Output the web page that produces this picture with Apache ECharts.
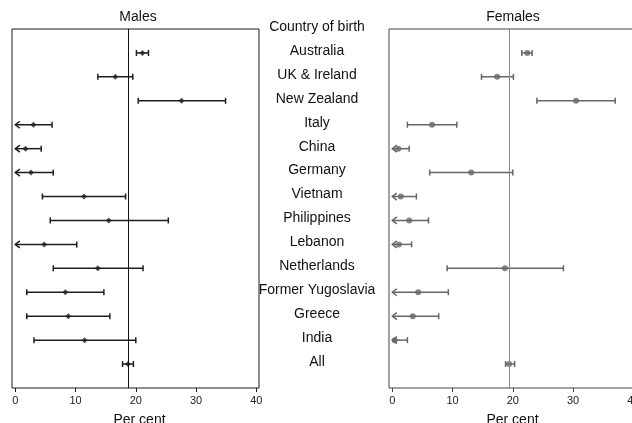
<!DOCTYPE html>
<html>
<head>
<meta charset="utf-8">
<script src="https://cdn.jsdelivr.net/npm/echarts@6/dist/echarts.min.js"></script>
<style>html,body{margin:0;padding:0;background:#fff}#c{width:632px;height:423px}</style>
</head>
<body>
<div id="c"></div>
<script>
const countries = ['Australia','UK & Ireland','New Zealand','Italy','China','Germany','Vietnam','Philippines','Lebanon','Netherlands','Former Yugoslavia','Greece','India','All'];
const header = 'Country of birth';
// null lower bound = interval truncated below zero (drawn as arrow)
const maleEst = [21.1, 16.6, 27.6, 3.0, 1.7, 2.6, 11.4, 15.5, 4.8, 13.7, 8.3, 8.8, 11.5, 18.7];
const maleLo  = [20.1, 13.7, 20.4, null, null, null, 4.5, 5.8, null, 6.3, 1.9, 1.9, 3.1, 17.8];
const maleHi  = [22.1, 19.5, 34.9, 6.1, 4.3, 6.3, 18.3, 25.4, 10.2, 21.2, 14.7, 15.7, 20.0, 19.6];
const femaleEst = [22.4, 17.4, 30.5, 6.6, 1.0, 13.1, 1.4, 2.8, 1.1, 18.7, 4.3, 3.4, 0.4, 19.4];
const femaleLo  = [21.5, 14.8, 24.0, 2.5, null, 6.2, null, null, null, 9.1, null, null, null, 18.8];
const femaleHi  = [23.2, 20.1, 37.0, 10.7, 2.8, 20.0, 4.0, 6.0, 3.2, 28.4, 9.3, 7.7, 2.5, 20.3];
const xTicks = [0, 10, 20, 30, 40];

const FONT = 'Liberation Sans, Arial, sans-serif';
const MALE = '#1e1e1e', FEMALE = '#666666';

function ciData(lo, hi) {
  return lo.map((l, i) => [l === null ? 0 : l, hi[i], i, l === null ? 1 : 0]);
}
function pts(est) { return est.map((v, i) => [v, i]); }

function makeRender(color, lw) {
  return function (params, api) {
    const y = api.value(2);
    const p0 = api.coord([api.value(0), y]);
    const p1 = api.coord([api.value(1), y]);
    const trunc = api.value(3) === 1;
    const h = 3;
    const children = [
      {type:'line', shape:{x1:p0[0], y1:p0[1], x2:p1[0], y2:p1[1]}, style:{stroke:color, lineWidth:lw}},
      {type:'line', shape:{x1:p1[0], y1:p1[1]-h, x2:p1[0], y2:p1[1]+h}, style:{stroke:color, lineWidth:lw}}
    ];
    if (trunc) {
      children.push({type:'polyline', shape:{points:[[p0[0]+4.5, p0[1]-3.5],[p0[0], p0[1]],[p0[0]+4.5, p0[1]+3.5]]}, style:{stroke:color, lineWidth:lw, fill:null}});
    } else {
      children.push({type:'line', shape:{x1:p0[0], y1:p0[1]-h, x2:p0[0], y2:p0[1]+h}, style:{stroke:color, lineWidth:lw}});
    }
    return {type:'group', children};
  };
}

function xAxisFor(gi, color) {
  return {
    gridIndex: gi, type: 'value', min: -0.55, max: 40.45, position: 'bottom',
    name: 'Per cent', nameLocation: 'middle', nameGap: 25,
    nameTextStyle: {fontSize: 14, color: '#111', fontFamily: FONT, padding: gi === 0 ? [0,0,0,8] : 0},
    axisLine: {show: false, onZero: false},
    axisTick: {show: true, customValues: xTicks, length: 4, lineStyle: {color: color, width: 1}},
    axisLabel: {customValues: xTicks, fontSize: 11, color: '#222', margin: 7, fontFamily: FONT},
    splitLine: {show: false}
  };
}

const chart = echarts.init(document.getElementById('c'), null, {renderer: 'canvas'});
chart.setOption({
  animation: false,
  backgroundColor: '#fff',
  grid: [
    {left: 12, top: 29, width: 247, height: 359, show: true, borderColor: '#1a1a1a', borderWidth: 1, backgroundColor: 'transparent', outerBoundsMode: 'none', containLabel: false},
    {left: 389, top: 29, width: 247, height: 359, show: true, borderColor: '#444', borderWidth: 1, backgroundColor: 'transparent', outerBoundsMode: 'none', containLabel: false}
  ],
  xAxis: [xAxisFor(0, '#1a1a1a'), xAxisFor(1, '#444')],
  yAxis: [
    {gridIndex: 0, type: 'value', inverse: true, min: -1, max: 14, show: false},
    {gridIndex: 1, type: 'value', inverse: true, min: -1, max: 14, interval: 1,
     axisLine: {show: false, onZero: false}, axisTick: {show: false}, splitLine: {show: false},
     axisLabel: {
       margin: 72, align: 'center', fontSize: 14, color: '#111', fontFamily: FONT,
       showMinLabel: true, showMaxLabel: true,
       formatter: v => v === -1 ? '{h|' + header + '}' : (countries[v] || ''),
       padding: [0, 0, 4, 0],
       rich: {h: {fontSize: 14, color: '#111', fontFamily: FONT}}
     }}
  ],
  graphic: [
    {type: 'text', x: 138, y: 17, style: {text: 'Males', align: 'center', verticalAlign: 'middle', fontSize: 14, fontFamily: FONT, fill: '#111'}},
    {type: 'text', x: 513, y: 17, style: {text: 'Females', align: 'center', verticalAlign: 'middle', fontSize: 14, fontFamily: FONT, fill: '#111'}}
  ],
  series: [
    {type: 'custom', xAxisIndex: 0, yAxisIndex: 0, data: ciData(maleLo, maleHi), encode: {x: [0, 1], y: 2}, renderItem: makeRender(MALE, 1.5), silent: true, clip: false},
    {type: 'scatter', xAxisIndex: 0, yAxisIndex: 0, data: pts(maleEst), symbol: 'diamond', symbolSize: 6, itemStyle: {color: MALE}, silent: true,
     markLine: {silent: true, symbol: 'none', label: {show: false}, lineStyle: {color: '#111', width: 1, type: 'solid'}, data: [{xAxis: maleEst[maleEst.length - 1]}]}},
    {type: 'custom', xAxisIndex: 1, yAxisIndex: 1, data: ciData(femaleLo, femaleHi), encode: {x: [0, 1], y: 2}, renderItem: makeRender(FEMALE, 1.5), silent: true, clip: false},
    {type: 'scatter', xAxisIndex: 1, yAxisIndex: 1, data: pts(femaleEst), symbol: 'circle', symbolSize: 6, itemStyle: {color: FEMALE}, silent: true,
     markLine: {silent: true, symbol: 'none', label: {show: false}, lineStyle: {color: '#888', width: 1, type: 'solid'}, data: [{xAxis: femaleEst[femaleEst.length - 1]}]}}
  ]
});
</script>
</body>
</html>
